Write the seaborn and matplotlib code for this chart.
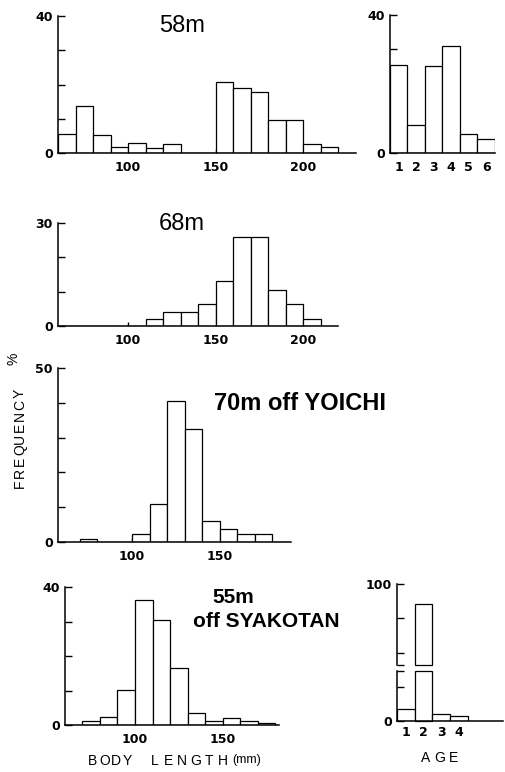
import matplotlib
matplotlib.use("Agg")
import matplotlib.pyplot as plt
import seaborn as sns
import numpy as np

# ---------------- data ----------------
# 58 m : body length (mm) bins and percent frequency
bins_58 = [60, 70, 80, 90, 100, 110, 120, 130, 140, 150, 160, 170, 180, 190, 200, 210, 220]
pct_58 = [5.6, 13.8, 5.4, 1.7, 2.8, 1.5, 2.7, 0, 0, 20.8, 19.0, 17.7, 9.6, 9.6, 2.7, 1.7]
ages_58 = [1, 2, 3, 4, 5, 6]
age_pct_58 = [25.5, 8.0, 25.2, 30.8, 5.4, 4.0]

# 68 m
bins_68 = [60, 70, 80, 90, 100, 110, 120, 130, 140, 150, 160, 170, 180, 190, 200, 210]
pct_68 = [0, 0, 0, 0, 0, 2.1, 4.2, 4.2, 6.4, 13.0, 25.8, 25.8, 10.6, 6.4, 1.9]

# 70 m off YOICHI
bins_70 = [70, 80, 90, 100, 110, 120, 130, 140, 150, 160, 170, 180, 190]
pct_70 = [1.0, 0, 0, 2.3, 11.0, 40.4, 32.5, 6.1, 3.8, 2.4, 2.4, 0]

# 55 m off SYAKOTAN
bins_55 = [70, 80, 90, 100, 110, 120, 130, 140, 150, 160, 170, 180]
pct_55 = [1.25, 2.2, 10.1, 36.1, 30.5, 16.5, 3.4, 1.25, 1.9, 1.25, 0.5]
ages_55 = [1, 2, 3, 4]
age_pct_55 = [3.5, 94.2, 2.0, 1.5]

titles = ["58m", "68m", "70m off YOICHI", "55m", "off SYAKOTAN"]

# ---------------- figure ----------------
sns.set_style("white")
plt.rcParams["font.family"] = ["DejaVu Sans"]
plt.rcParams["text.color"] = "black"
plt.rcParams["axes.labelcolor"] = "black"
W, H = 506, 772
fig = plt.figure(figsize=(W / 100, H / 100), dpi=100)
fig.patch.set_facecolor("white")


def rect(x0, x1, y0, y1):
    return [x0 / W, 1 - y1 / H, (x1 - x0) / W, (y1 - y0) / H]


EDGE_LW = 0.9
SPINE_LW = 1.1


def style(ax, xlim, ylim, xticks, xlabels, yticks, ylabels, xpad=5.5):
    ax.set_xlim(xlim)
    ax.set_ylim(ylim)
    ax.set_xticks(xticks)
    ax.set_xticklabels(xlabels)
    ax.set_yticks(yticks)
    ax.set_yticklabels(ylabels)
    ax.set_xlabel("")
    ax.set_ylabel("")
    sns.despine(ax=ax)
    for s in ("left", "bottom"):
        ax.spines[s].set_linewidth(SPINE_LW)
        ax.spines[s].set_color("black")
    ax.tick_params(axis="y", left=True, direction="in", length=5, width=1.0,
                   pad=3.6, labelsize=9, colors="black")
    ax.tick_params(axis="x", bottom=True, direction="in", length=3, width=1.0,
                   pad=xpad, labelsize=9, colors="black")
    for lab in ax.get_xticklabels() + ax.get_yticklabels():
        lab.set_fontweight("bold")
    ax.patch.set_alpha(0)


def hist(ax, bins, pct):
    centers = [(a + b) / 2 for a, b in zip(bins[:-1], bins[1:])]
    sns.histplot(x=centers, weights=pct, bins=bins, ax=ax, color="white",
                 edgecolor="black", linewidth=EDGE_LW, alpha=1)


def agebars(ax, ages, pct):
    sns.barplot(x=ages, y=pct, ax=ax, color="white", edgecolor="black",
                linewidth=EDGE_LW, width=1, saturation=1)


# Panel 1: 58 m
ax1 = fig.add_axes(rect(58, 355.5, 16, 153))
hist(ax1, bins_58, pct_58)
style(ax1, (60, 230), (0, 40), [100, 150, 200], ["100", "150", "200"],
      [0, 10, 20, 30, 40], ["0", "", "", "", "40"])

ax1a = fig.add_axes(rect(390, 495, 14.5, 153))
agebars(ax1a, ages_58, age_pct_58)
style(ax1a, (-0.5, 5.5), (0, 40), range(len(ages_58)), [str(a) for a in ages_58],
      [0, 10, 20, 30, 40], ["0", "", "", "", "40"])
ax1a.tick_params(axis="x", length=0)

# Panel 2: 68 m
ax2 = fig.add_axes(rect(58, 338, 223, 326))
hist(ax2, bins_68, pct_68)
style(ax2, (60, 220), (0, 30), [100, 150, 200], ["100", "150", "200"],
      [0, 10, 20, 30], ["0", "", "", "30"])

# Panel 3: 70 m off YOICHI
ax3 = fig.add_axes(rect(58, 291, 368, 542))
hist(ax3, bins_70, pct_70)
style(ax3, (57.7, 190.8), (0, 50), [100, 150], ["100", "150"],
      [0, 10, 20, 30, 40, 50], ["0", "", "", "", "", "50"])

# Panel 4: 55 m off SYAKOTAN
ax4 = fig.add_axes(rect(65, 278.5, 587, 725))
hist(ax4, bins_55, pct_55)
style(ax4, (60, 182), (0, 40), [100, 150], ["100", "150"],
      [0, 10, 20, 30, 40], ["0", "", "", "", "40"])

# Panel 4 age: broken axis
LO_TOP, UP_BOT = 14.5, 76.5
axU = fig.add_axes(rect(397, 503, 584, 665))
agebars(axU, ages_55, age_pct_55)
style(axU, (-0.5, 5.5), (UP_BOT, 100), [], [], [UP_BOT, 80, 90, 100],
      ["", "", "", "100"])
axU.spines["bottom"].set_visible(False)
for p in axU.patches:
    h = p.get_height()
    if h > UP_BOT:
        p.set_y(UP_BOT)
        p.set_height(h - UP_BOT)
        p.set_clip_on(False)
    else:
        p.set_visible(False)

axL = fig.add_axes(rect(397, 503, 671, 721))
agebars(axL, ages_55, age_pct_55)
style(axL, (-0.5, 5.5), (0, LO_TOP), range(len(ages_55)), [str(a) for a in ages_55],
      [0, 10, LO_TOP], ["0", "", ""], xpad=3.3)
axL.tick_params(axis="x", length=0)
for p in axL.patches:
    if p.get_height() > LO_TOP:
        p.set_height(LO_TOP)
        p.set_clip_on(False)

# ---------------- titles ----------------
TF = ["Liberation Sans", "DejaVu Sans"]


def ftext(x, y, s, **kw):
    fig.text(x / W, 1 - y / H, s, color="black", **kw)


ftext(159, 32, titles[0], fontsize=17, family=TF, ha="left", va="baseline")
ftext(159, 230, titles[1], fontsize=17, family=TF, ha="left", va="baseline")
ftext(214, 410, titles[2], fontsize=17, family=TF, fontweight="bold",
      ha="left", va="baseline")
ftext(212, 603, titles[3], fontsize=15, family=TF, fontweight="bold",
      ha="left", va="baseline")
ftext(193, 627, titles[4], fontsize=15, family=TF, fontweight="bold",
      ha="left", va="baseline")

# ---------------- axis labels (letter spaced) ----------------
LF = ["Liberation Sans", "DejaVu Sans"]


def spaced(s, x0, y, pitch, rot=0, size=10):
    for i, ch in enumerate(s):
        if rot == 0:
            ftext(x0 + i * pitch, y, ch, fontsize=size, family=LF,
                  ha="center", va="center")
        else:
            ftext(x0, y - i * pitch, ch, fontsize=size, family=LF,
                  ha="center", va="center", rotation=90)


spaced("BODY", 93, 761, 11.5)
spaced("LENGTH", 155, 761, 13.6)
ftext(247, 760, "(mm)", fontsize=9, family=LF, ha="center", va="center")
spaced("AGE", 426, 758, 13.5)
spaced("FREQUENCY", 20, 484, 11.3, rot=90)
ftext(14, 359, "%", fontsize=10, family=LF, ha="center", va="center", rotation=90)

fig.savefig("out.png", dpi=100, facecolor="white")
